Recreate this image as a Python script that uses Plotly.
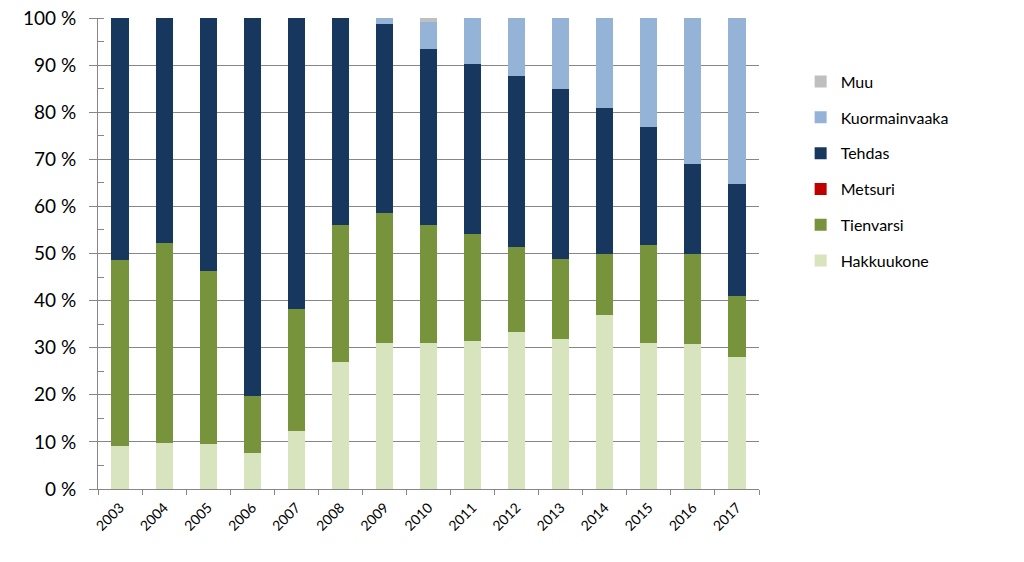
import plotly.graph_objects as go

years = ["2003", "2004", "2005", "2006", "2007", "2008", "2009", "2010",
         "2011", "2012", "2013", "2014", "2015", "2016", "2017"]

hakkuukone = [9.1, 9.7, 9.6, 7.6, 12.3, 27.0, 30.9, 31.1, 31.4, 33.3, 31.9, 36.9, 30.9, 30.8, 28.0]
tienvarsi = [39.5, 42.5, 36.7, 12.2, 26.0, 29.0, 27.6, 24.95, 22.7, 18.1, 17.0, 13.1, 21.0, 19.2, 12.9]
metsuri = [0, 0, 0, 0, 0, 0, 0, 0, 0, 0, 0, 0, 0, 0, 0]
tehdas = [51.4, 47.8, 53.7, 80.2, 61.7, 44.0, 40.2, 37.45, 36.1, 36.3, 36.0, 30.9, 25.0, 18.9, 23.9]
kuormainvaaka = [0, 0, 0, 0, 0, 0, 1.3, 5.7, 9.8, 12.3, 15.1, 19.1, 23.1, 31.1, 35.2]
muu = [0, 0, 0, 0, 0, 0, 0, 0.8, 0, 0, 0, 0, 0, 0, 0]

series = [
    ("Hakkuukone", hakkuukone, "#D7E4BD"),
    ("Tienvarsi", tienvarsi, "#77933C"),
    ("Metsuri", metsuri, "#C00000"),
    ("Tehdas", tehdas, "#17375E"),
    ("Kuormainvaaka", kuormainvaaka, "#95B3D7"),
    ("Muu", muu, "#BFBFBF"),
]

fig = go.Figure()
n = len(series)
for i, (name, vals, color) in enumerate(series):
    fig.add_trace(go.Bar(
        x=years, y=vals, name=name, legendgroup=name, legendrank=n - i,
        marker=dict(color=color, line=dict(width=0)),
    ))

font_family = "Lato, 'Open Sans', sans-serif"

fig.update_layout(
    width=1024, height=562,
    barmode="stack", bargap=0.61,
    plot_bgcolor="white", paper_bgcolor="white",
    margin=dict(l=90, r=273, t=10, b=81, autoexpand=False),
    font=dict(family=font_family, color="#000000"),
    showlegend=True,
    legend=dict(
        traceorder="grouped", x=1.063, xanchor="left", y=0.901, yanchor="top",
        font=dict(size=16, family=font_family), tracegroupgap=12,
        itemwidth=30,
    ),
    xaxis=dict(
        type="category", tickangle=-45, tickfont=dict(size=14), ticklabelstandoff=4,
        showline=True, linecolor="#868686", linewidth=1,
        ticks="outside", ticklen=5, tickcolor="#868686", tickson="boundaries",
        showgrid=False, automargin=False,
    ),
    yaxis=dict(
        range=[0, 100], dtick=10, ticksuffix=" %",
        tickfont=dict(size=19), ticklabelstandoff=9, ticklabeloverflow="allow",
        showline=True, linecolor="#868686", linewidth=1,
        ticks="outside", ticklen=8, tickcolor="#868686",
        showgrid=True, gridcolor="#868686", gridwidth=1,
        minor=dict(dtick=5, ticks="inside", ticklen=6, tickcolor="#868686", showgrid=False),
        zeroline=False, automargin=False,
    ),
)

fig.write_html("out.html")
